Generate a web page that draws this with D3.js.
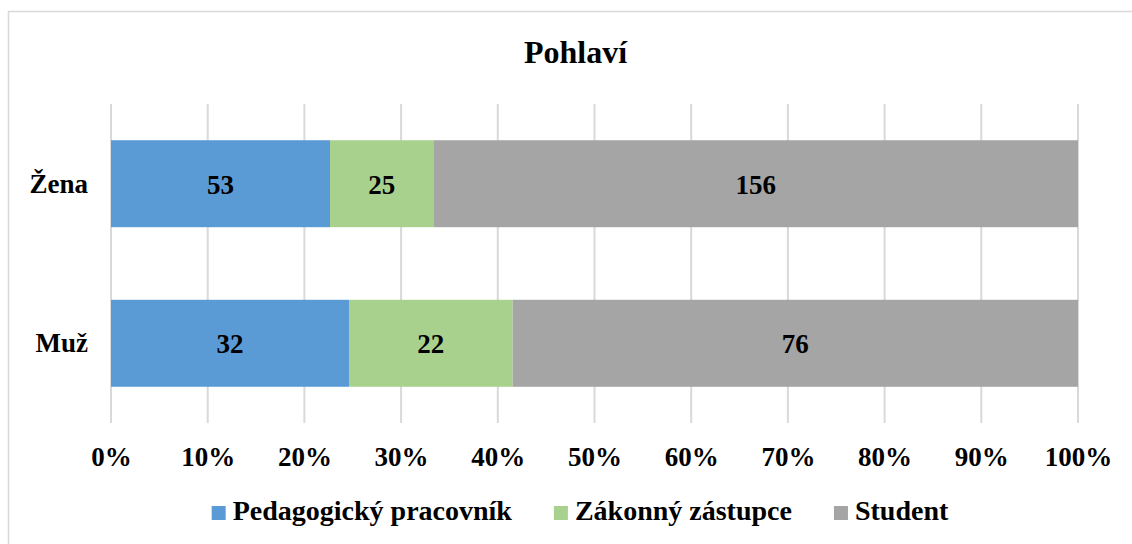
<!DOCTYPE html>
<html><head><meta charset="utf-8">
<script src="https://cdn.jsdelivr.net/npm/d3@7"></script>
<style>body{margin:0;background:#fff}svg{display:block}</style>
</head><body>
<svg id="c" width="1132" height="544"></svg>
<script>
const title = "Pohlaví";
const categories = ["Žena", "Muž"];
const seriesNames = ["Pedagogický pracovník", "Zákonný zástupce", "Student"];
const colors = ["#5b9bd5", "#a9d18e", "#a5a5a5"];
const pedagog = [53, 32];
const zakonny = [25, 22];
const student = [156, 76];
const tickValues = [0, 0.1, 0.2, 0.3, 0.4, 0.5, 0.6, 0.7, 0.8, 0.9, 1.0];

const FONT = "'Liberation Serif', 'Times New Roman', Times, serif";
const svg = d3.select("#c");
svg.append("rect").attr("x", 8.5).attr("y", 11.5).attr("width", 1140).attr("height", 560)
  .attr("fill", "#fff").attr("stroke", "#d9d9d9").attr("stroke-width", 1.5);

const rows = categories.map((c, i) => ({cat: c, vals: [pedagog[i], zakonny[i], student[i]]}));
const x = d3.scaleLinear().domain([0, 1]).range([111, 1078]);
const y = d3.scaleBand().domain(categories).range([104, 423]).paddingInner(0.455).paddingOuter(0.227);

function styleText(sel, size) {
  sel.style("font-family", FONT).style("font-weight", "bold").style("font-size", size + "px").attr("fill", "#000");
}

// gridlines
svg.append("g").selectAll("line").data(tickValues).join("line")
  .attr("x1", d => x(d)).attr("x2", d => x(d)).attr("y1", 104).attr("y2", 423)
  .attr("stroke", "#d9d9d9").attr("stroke-width", 2);

// bars
rows.forEach(r => {
  const total = d3.sum(r.vals);
  let acc = 0;
  r.vals.forEach((v, j) => {
    const x0 = x(acc / total), x1 = x((acc + v) / total);
    svg.append("rect").attr("x", x0).attr("y", y(r.cat)).attr("width", x1 - x0)
      .attr("height", y.bandwidth()).attr("fill", colors[j]);
    svg.append("text").attr("x", (x0 + x1) / 2).attr("y", y(r.cat) + y.bandwidth() / 2 + 10)
      .attr("text-anchor", "middle").text(v).call(styleText, 27);
    acc += v;
  });
});

// x axis labels
const xAxis = d3.axisBottom(x).tickValues(tickValues).tickFormat(d3.format(".0%")).tickSize(0).tickPadding(0);
const gx = svg.append("g").attr("transform", "translate(0,447)").call(xAxis);
gx.select(".domain").remove();
gx.selectAll("text").attr("dy", "0.7em").call(styleText, 27);

// y axis labels
const yAxis = d3.axisLeft(y).tickSize(0).tickPadding(0);
const gy = svg.append("g").attr("transform", "translate(88,0)").call(yAxis);
gy.select(".domain").remove();
gy.selectAll("text").attr("dy", "0.34em").call(styleText, 27);

// title
svg.append("text").attr("x", 575.5).attr("y", 63).attr("text-anchor", "middle")
  .text(title).call(styleText, 32);

// legend
const lg = svg.append("g");
let lx = 0;
seriesNames.forEach((n, i) => {
  const g = lg.append("g").attr("transform", `translate(${lx},0)`);
  g.append("rect").attr("x", 0).attr("y", 506).attr("width", 14).attr("height", 14).attr("fill", colors[i]);
  const t = g.append("text").attr("x", 21).attr("y", 520).text(n).call(styleText, 28);
  lx += 21 + t.node().getComputedTextLength() + 42;
});
const lw = lx - 42;
lg.attr("transform", `translate(${580 - lw / 2},0)`);
</script>
</body></html>
